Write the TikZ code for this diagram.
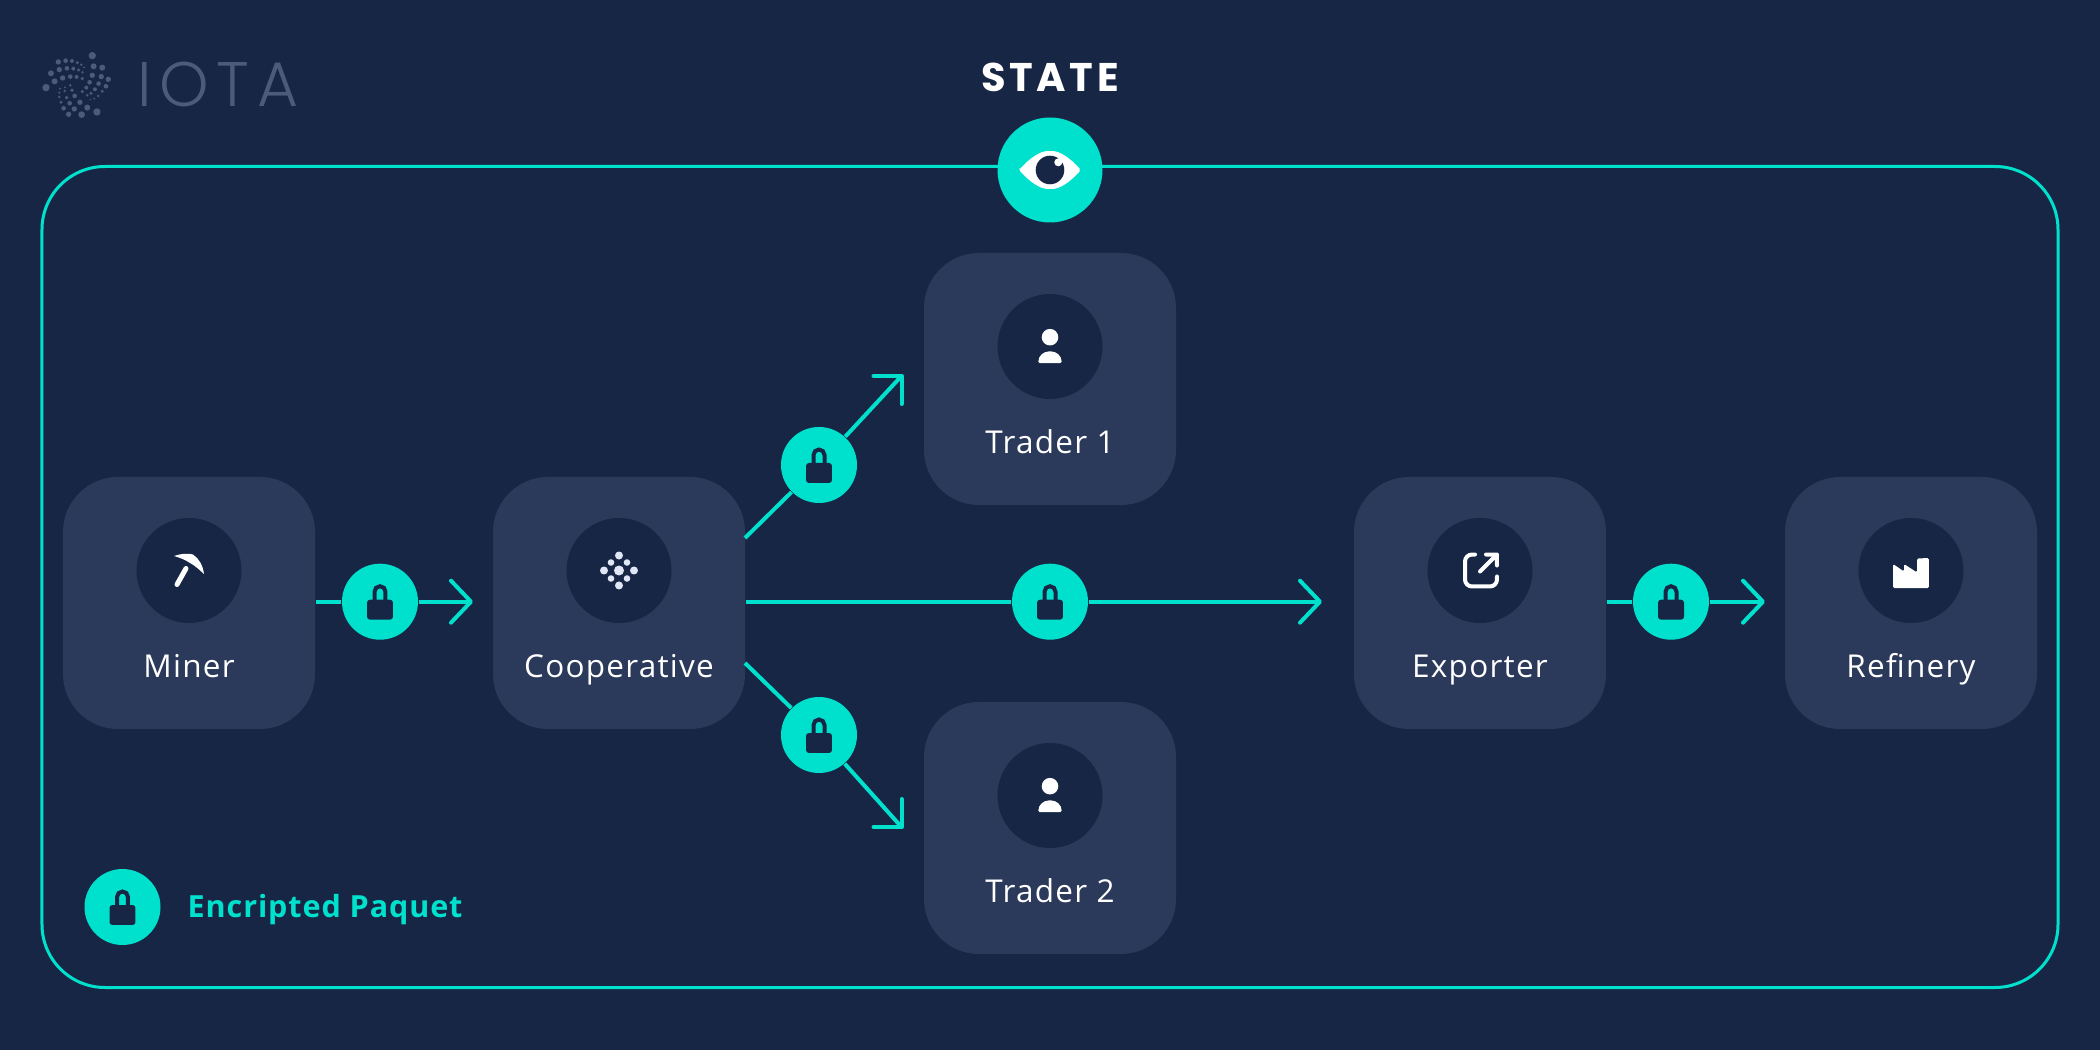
\documentclass[tikz,border=0pt]{standalone}
\usepackage{fontspec}
\setmainfont{Open Sans}
\newfontfamily\agentfont[LetterSpace=4]{Open Sans}
\newfontfamily\legendfont[LetterSpace=3]{Open Sans}
\newfontfamily\statefont[LetterSpace=9]{Poppins}
\newfontfamily\logofont[LetterSpace=12]{Poppins Light}
\usetikzlibrary{arrows.meta,positioning}
\definecolor{night}{RGB}{23,38,69}
\definecolor{slab}{RGB}{43,57,90}
\definecolor{mint}{RGB}{0,225,205}
\definecolor{logogrey}{RGB}{74,91,124}
\definecolor{pale}{RGB}{224,230,245}
\tikzset{
    px/.style={
    x=0.01cm,y=-0.01cm
    },
    agent/.style={
    rectangle,rounded corners=0.55cm,fill=slab,minimum size=2.52cm,inner sep=0pt
    },
    disc/.style={
    circle,fill=night,minimum size=1.05cm,inner sep=0pt
    },
    agentname/.style={
    text=white,font=\agentfont\fontsize{8.96pt}{10pt}\selectfont,text height=0.22cm,text depth=0.07cm,inner sep=0pt
    },
    lock/.style={
    circle,fill=mint,minimum size=0.76cm,inner sep=0pt
    },
    flow/.style={
    draw=mint,line width=0.04cm
    },
    flowtip/.style={
    flow,-{Straight Barb[length=0.2cm,width=0.42cm,round]}
    },
    barb/.style={
    flow,line cap=round,line join=round
    },
    padlock/.pic={
    \begin{scope}[px]
    \fill[night,rounded corners=0.03cm] (-13,-2) rectangle (13,18);
    \draw[night,line width=0.04cm] (-5.5,0) -- (-5.5,-10) arc (180:360:5.5) -- (5.5,0);
    \end{scope}
    },
    pickaxe/.pic={
    \begin{scope}[px]
    \fill[white] (-15,-14.5) .. controls (-8,-17) and (0,-17.5) .. (4,-16) .. controls (10,-12) and (14,-5) .. (15,3.5)
      .. controls (10,-1) and (6,-5) .. (1,-7.5) .. controls (-4,-11) and (-10,-13) .. (-15,-14.5) -- cycle;
    \draw[white,line width=0.05cm,line cap=round] (-3,-2) -- (-12,14);
    \end{scope}
    },
    dots/.pic={
    \begin{scope}[px]
    \fill[pale] (0,0) circle (5);
    \foreach \dx/\dy in {15/0,-15/0,0/15,0/-15}
      \fill[pale] (\dx,\dy) circle (4);
    \foreach \dx/\dy in {8/8,-8/8,8/-8,-8/-8}
      \fill[pale] (\dx,\dy) circle (3.3);
    \end{scope}
    },
    person/.pic={
    \begin{scope}[px]
    \fill[white] (0,-9.3) circle (8.3);
    \fill[white,rounded corners=0.015cm] (-11.7,16.7) .. controls (-11.7,9) and (-6,5) .. (0,5) .. controls (6,5) and (11.7,9) .. (11.7,16.7) -- cycle;
    \end{scope}
    },
    export/.pic={
    \begin{scope}[px]
    \draw[white,line width=0.04cm,line cap=round,rounded corners=0.07cm] (-5,-16) -- (-15,-16) -- (-15,16) -- (17,16) -- (17,6);
    \draw[white,line width=0.04cm,line cap=round,line join=round] (0,1) -- (17,-16) (6,-16) -- (17,-16) -- (17,-5);
    \end{scope}
    },
    factory/.pic={
    \begin{scope}[px]
    \fill[white,rounded corners=0.015cm] (-18,-6.5) -- (-7,1) -- (-7,-6.5) -- (6,2) -- (6,-12) -- (18,-12.5) -- (18,17.7) -- (-18,17.7) -- cycle;
    \end{scope}
    },
    eye/.pic={
    \begin{scope}[px]
    \fill[white,rounded corners=0.02cm] (-31,0) .. controls (-20,-12) and (-10,-19) .. (0,-19) .. controls (10,-19) and (20,-12) .. (31,0)
      .. controls (20,12) and (10,19) .. (0,19) .. controls (-10,19) and (-20,12) .. (-31,0) -- cycle;
    \fill[night] (0,0) circle (14.3);
    \fill[white] (8.3,-7.7) circle (4);
    \end{scope}
    },
}

\begin{document}
\begin{tikzpicture}[on grid]
   \useasboundingbox (0,0) rectangle (21,10.5);
   \fill[night] (0,0) rectangle (21,10.5);

   % logo
   \begin{scope}[shift={(0,10.3)},x=0.01cm/3,y=-0.01cm/3]
   \foreach \px/\py/\pr in {277/107/11,281/139/9,307/143/9,175/126/8,197/122/7,216/123/6,232/128/5,244/134/4,252/142/3,
     153/160/9,178/149/8,201/145/7,220/146/6,236/150/5,248/157/4,164/184/9,188/174/8,211/170/7,230/171/6,247/176/5,
     138/203/11,277/166/8,304/170/8,325/178/8,269/187/7,296/191/7,318/199/7,259/203/6,285/208/6,307/214/5,
     247/215/5,273/220/5,295/228/4,262/226/4,283/236/3,271/239/2,211/196/4,195/202/3,180/206/3,216/211/5.5,194/213/4,178/218/3.5,
     224/228/7,200/233/5.5,178/231/4,240/247/8,209/250/7,183/247/5,262/263/9,223/267/8,191/265/7,291/276/11,245/284/10,206/283/8}
     \fill[logogrey] (\px,\py) circle (\pr);
   \end{scope}
   \node[anchor=base west,inner sep=0pt,text=logogrey,font=\logofont\fontsize{17.9pt}{20pt}\selectfont] (iota) at (1.37,9.43) {IOTA};

   % state frame
   \node[rectangle,draw=mint,line width=0.03cm,rounded corners=0.63cm,minimum width=20.16cm,minimum height=8.21cm] (state) at (10.5,4.73) {};
   \node[circle,fill=mint,minimum size=1.05cm,inner sep=0pt] (stateeye) at (10.5,8.8) {};
   \pic at (stateeye) {eye};
   \node[text=white,inner sep=0pt,font=\statefont\bfseries\fontsize{11.38pt}{13pt}\selectfont] (statename) at (10.5,9.725) {STATE};

   % agents
   \node[agent] (miner) at (1.89,4.47) {};
   \node[agent] (coop) at (6.19,4.47) {};
   \node[agent] (trader1) at (10.5,6.71) {};
   \node[agent] (trader2) at (10.5,2.22) {};
   \node[agent] (exporter) at (14.8,4.47) {};
   \node[agent] (refinery) at (19.11,4.47) {};

   \node[disc,above=0.325cm of miner] (minerdisc) {};
   \node[disc,above=0.325cm of coop] (coopdisc) {};
   \node[disc,above=0.325cm of trader1] (trader1disc) {};
   \node[disc,above=0.325cm of trader2] (trader2disc) {};
   \node[disc,above=0.325cm of exporter] (exporterdisc) {};
   \node[disc,above=0.325cm of refinery] (refinerydisc) {};

   \pic at (minerdisc) {pickaxe};
   \pic at (coopdisc) {dots};
   \pic at (trader1disc) {person};
   \pic at (trader2disc) {person};
   \pic at (exporterdisc) {export};
   \pic at (refinerydisc) {factory};

   \node[agentname,below=0.675cm of miner] (minername) {Miner};
   \node[agentname,below=0.675cm of coop] (coopname) {Cooperative};
   \node[agentname,below=0.675cm of trader1] (trader1name) {Trader 1};
   \node[agentname,below=0.675cm of trader2] (trader2name) {Trader 2};
   \node[agentname,below=0.675cm of exporter] (exportername) {Exporter};
   \node[agentname,below=0.675cm of refinery] (refineryname) {Refinery};

   % packets
   \node[lock] (lockA) at (3.8,4.483) {};
   \node[lock] (lockUp) at (8.19,5.85) {};
   \node[lock] (lockMid) at (10.5,4.483) {};
   \node[lock] (lockDown) at (8.19,3.15) {};
   \node[lock] (lockB) at (16.71,4.483) {};
   \node[lock] (lockKey) at (1.225,1.43) {};

   \coordinate (tipA) at (4.73,4.483);
   \coordinate (tipUp) at (9.015,6.74);
   \coordinate (tipMid) at (13.22,4.483);
   \coordinate (tipDown) at (9.015,2.23);
   \coordinate (tipB) at (17.65,4.483);
   \coordinate (coopUp) at (7.45,5.12);
   \coordinate (coopDown) at (7.45,3.87);

   \draw[flow] (lockA -| miner.east) -- (lockA);
   \draw[flowtip] (lockA) -- (tipA);
   \draw[flow] (coopUp) -- (lockUp);
   \draw[flow] (lockUp) -- (tipUp);
   \draw[barb] ([xshift=-0.28cm]tipUp) -- (tipUp) -- ([yshift=-0.28cm]tipUp);
   \draw[flow] (lockMid -| coop.east) -- (lockMid);
   \draw[flowtip] (lockMid) -- (tipMid);
   \draw[flow] (coopDown) -- (lockDown);
   \draw[flow] (lockDown) -- (tipDown);
   \draw[barb] ([xshift=-0.28cm]tipDown) -- (tipDown) -- ([yshift=0.28cm]tipDown);
   \draw[flow] (lockB -| exporter.east) -- (lockB);
   \draw[flowtip] (lockB) -- (tipB);

   \pic at (lockA) {padlock};
   \pic at (lockUp) {padlock};
   \pic at (lockMid) {padlock};
   \pic at (lockDown) {padlock};
   \pic at (lockB) {padlock};
   \pic at (lockKey) {padlock};

   \node[anchor=base west,inner sep=0pt,text=mint,font=\legendfont\bfseries\fontsize{8.68pt}{10pt}\selectfont] (keyname) at (1.87,1.32) {Encripted Paquet};
\end{tikzpicture}
\end{document}
